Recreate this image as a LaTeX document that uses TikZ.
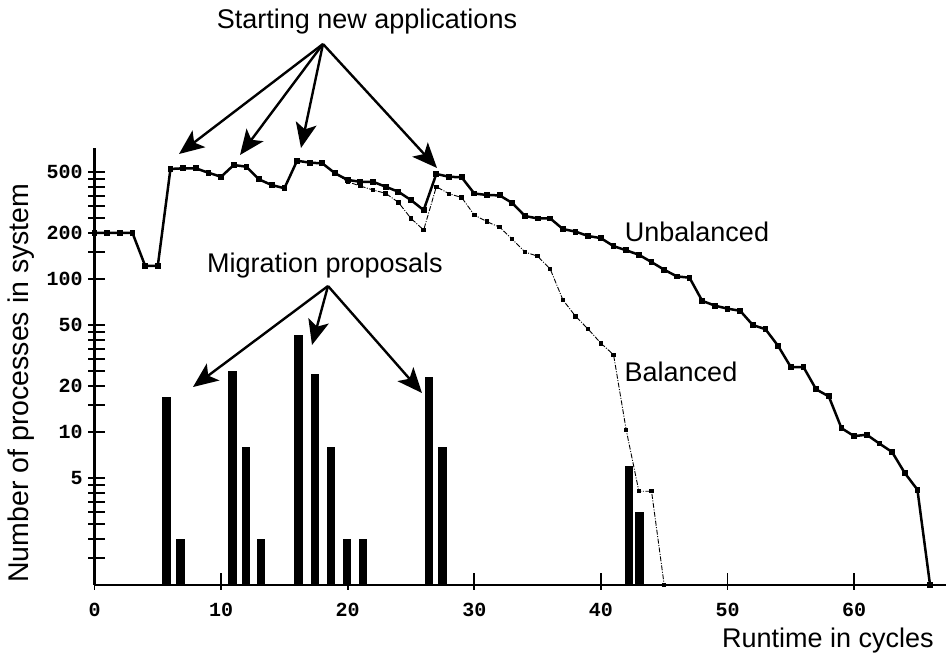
\documentclass[tikz,border=0pt]{standalone}
\usepackage{fontspec}
\setmainfont{Liberation Sans}
\newfontfamily\tickfont{Liberation Mono}
\usetikzlibrary{arrows.meta}
\tikzset{
    curvelabel/.style = {font=\fontsize{27}{32}\selectfont, inner sep=0pt},
    ticklabel/.style = {font=\fontsize{20}{24}\selectfont\tickfont\bfseries, inner sep=1pt},
    pointer/.style = {line width=2.4pt, -{Stealth[length=25pt,width=21pt,inset=6pt]}},
    axisline/.style = {line width=2.2pt},
    tickline/.style = {line width=1.8pt},
    unbal/.style = {line width=2.5pt, line join=round},
    bal/.style = {line width=0.9pt, dash pattern=on 5pt off 1.5pt on 1pt off 1.5pt},
    bar/.style = {fill=black}}
% runtime / number of processes (log scale)
\def\unbaldata{0/200,1/200,2/200,3/200,4/122,5/122,6/524,7/529,8/529,9/495,
  10/466,11/556,12/542,13/448,14/411,15/392,16/593,17/576,18/570,19/491,
  20/444,21/432,22/432,23/401,24/372,25/328,26/282,27/486,28/466,29/462,
  30/362,31/354,32/352,33/314,34/258,35/249,36/249,37/212,38/204,39/191,
  40/185,41/164,42/154,43/144,44/129,45/115,46/104,47/102,48/72,49/67,
  50/64,51/62,52/50,53/47,54/36.5,55/26.6,56/26.6,57/19,58/17.1,59/10.6,
  60/9.4,61/9.6,62/8.4,63/7.4,64/5.4,65/4.2,66/1}
\def\baldata{18/570,19/491,20/432,21/405,22/382,23/363,24/317,25/249,26/209,
  27/401,28/361,29/341,30/262,31/237,32/218,33/182,34/150,35/141,36/116,
  37/73,38/57,39/47,40/38,41/32,42/10.3,43/4.1,44/4.1,45/1}
\def\bardata{5.7/17,6.8/2,10.9/25,11.95/8,13.15/2,16.1/43,17.4/24,18.7/8,
  19.95/2,21.2/2,26.4/23,27.5/8,42.2/6,43.05/3}

\begin{document}
\begin{tikzpicture}[x=1pt,y=-1pt]
    \useasboundingbox (0,0) rectangle (946,657);

    \begin{scope}[shift={(94.5,585)},x=12.66pt,y=153pt]
        % axes
        \draw[axisline] (0,0) -- (0,2.856);
        \draw[axisline] (0,0) -- (67.3,0);
        \foreach \d in {1,10,100}
            \foreach \m in {1.5,2,2.5,3,3.5,4,4.5,5}
                \draw[tickline] (-0.5,{log10(\m*\d)}) -- (0.8,{log10(\m*\d)});
        \foreach \v in {10,100}
            \draw[tickline] (-0.5,{log10(\v)}) -- (0.8,{log10(\v)});
        \foreach \v in {5,10,20,50,100,200,500}
            \node[ticklabel,anchor=east] (y\v) at (-0.85,{log10(\v)}) {\v};
        \foreach \x in {0,10,...,60} {
            \draw[tickline] (\x,-0.03) -- (\x,0.08);
            \node[ticklabel] (x\x) at (\x,-0.165) {\x};
        }

        % migration proposals
        \foreach \x/\v in \bardata
            \fill[bar] ({\x-0.33},0) rectangle ({\x+0.33},{log10(\v)});

        % balanced
        \draw[bal] (18,{log10(570)}) \foreach \x/\v in \baldata {-- (\x,{log10(\v)})};
        \foreach \x/\v in \baldata
            \fill (\x,{log10(\v)}) +(-2.2pt,-2.2pt) rectangle +(2.2pt,2.2pt);

        % unbalanced
        \draw[unbal] (0,{log10(200)}) \foreach \x/\v in \unbaldata {-- (\x,{log10(\v)})};
        \foreach \x/\v in \unbaldata
            \fill (\x,{log10(\v)}) +(-2.9pt,-2.9pt) rectangle +(2.9pt,2.9pt);
    \end{scope}

    \node[curvelabel] (start) at (367,22) {Starting new applications};
    \node[curvelabel] (migr) at (325,266) {Migration proposals};
    \node[curvelabel] (unb) at (697,232) {Unbalanced};
    \node[curvelabel] (bal) at (681,372) {Balanced};
    \node[curvelabel] (runtime) at (828,641) {Runtime in cycles};
    \node[curvelabel,font=\fontsize{28.5}{32}\selectfont,rotate=90] (number) at (21,383)
        {Number of processes in system};

    \coordinate (sroot) at (323,44);
    \coordinate (s1) at (179,154);
    \coordinate (s2) at (240,155);
    \coordinate (s3) at (301,148);
    \coordinate (s4) at (437,168);
    \draw[pointer] (sroot) -- (s1);
    \draw[pointer] (sroot) -- (s2);
    \draw[pointer] (sroot) -- (s3);
    \draw[pointer] (sroot) -- (s4);

    \coordinate (mroot) at (328,286);
    \coordinate (m1) at (193,387);
    \coordinate (m2) at (312,345);
    \coordinate (m3) at (422,393);
    \draw[pointer] (mroot) -- (m1);
    \draw[pointer] (mroot) -- (m2);
    \draw[pointer] (mroot) -- (m3);
\end{tikzpicture}
\end{document}
